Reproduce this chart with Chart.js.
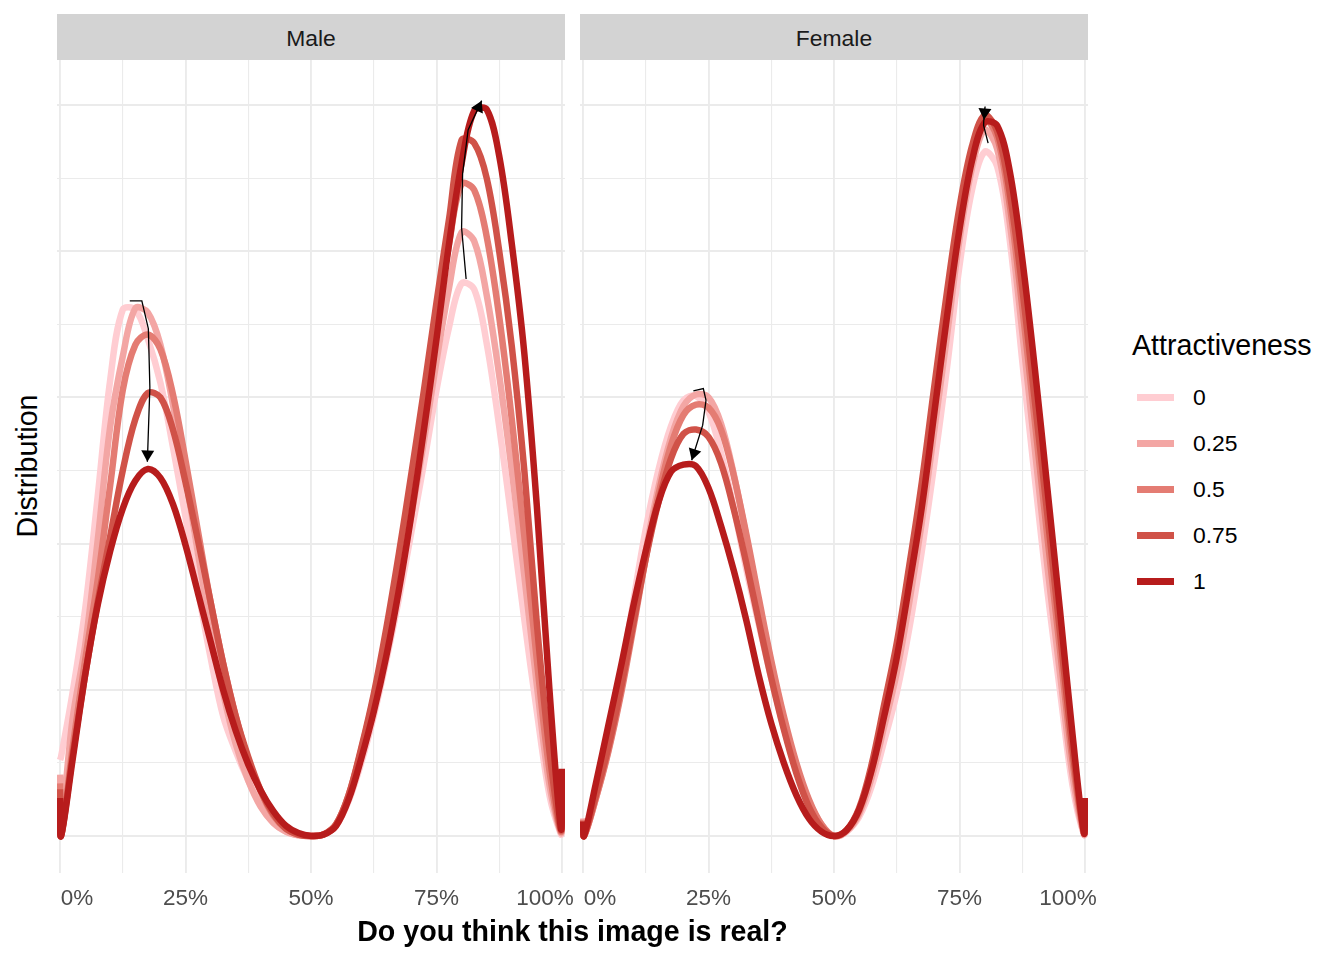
<!DOCTYPE html>
<html>
<head>
<meta charset="utf-8">
<script src="https://cdn.jsdelivr.net/npm/chart.js@4.4.1/dist/chart.umd.min.js"></script>
<style>
  body { margin: 0; background: #ffffff; font-family: "Liberation Sans", Arial, sans-serif; }
  #wrap { position: relative; width: 1344px; height: 960px; overflow: hidden; background: #fff; }
  .strip { position: absolute; top: 14px; height: 46px; width: 508px; background: #D3D3D3; color: #1A1A1A;
           font-size: 22.9px; line-height: 1; box-sizing: border-box; padding-top: 3px;
           display: flex; align-items: center; justify-content: center; }
  canvas { position: absolute; }
  .tick { position: absolute; top: 887px; font-size: 22.5px; line-height: 1; color: #4D4D4D;
          transform: translateX(-50%); white-space: nowrap; }
  .xtitle { position: absolute; left: 0; width: 1145px; top: 917px; text-align: center; font-weight: bold;
            font-size: 28.6px; line-height: 1; color: #000; }
  .ytitle { position: absolute; left: 27px; top: 466px; transform: translate(-50%, -50%) rotate(-90deg);
            font-size: 28.6px; line-height: 1; color: #000; white-space: nowrap; }
  .legtitle { position: absolute; left: 1132px; top: 331px; font-size: 28.6px; line-height: 1; color: #000; }
  .key { position: absolute; left: 1137px; width: 37px; height: 7px; }
  .klab { position: absolute; left: 1193px; font-size: 22.9px; line-height: 1; color: #000; }
</style>
</head>
<body>
<div id="wrap">
  <div class="strip" style="left:57px">Male</div>
  <div class="strip" style="left:580px">Female</div>
  <canvas id="cMale" width="508" height="870" style="left:57px;top:60px"></canvas>
  <canvas id="cFemale" width="508" height="870" style="left:580px;top:60px"></canvas>
  <div id="ticks"></div>
  <div class="xtitle">Do you think this image is real?</div>
  <div class="ytitle">Distribution</div>
  <div class="legtitle">Attractiveness</div>
  <div id="legend"></div>
</div>
<script>
// ---------- data ----------
const xs = [0, 0.002, 0.025, 0.05, 0.075, 0.1, 0.125, 0.15, 0.175, 0.2, 0.225, 0.25, 0.275, 0.3, 0.325, 0.35,
            0.375, 0.4, 0.425, 0.45, 0.475, 0.5, 0.525, 0.55, 0.575, 0.6, 0.625, 0.65, 0.675, 0.7, 0.725, 0.75,
            0.775, 0.8, 0.825, 0.85, 0.875, 0.9, 0.925, 0.95, 0.975, 0.998, 1];

const seriesNames = ['0', '0.25', '0.5', '0.75', '1'];
const seriesColors = ['#FFCDD2', '#F3A6A4', '#E47C73', '#D05248', '#B71C1C'];

const male0   = [0.52, 0.54, 0.98, 1.55, 2.32, 3.12, 3.60, 3.60, 3.40, 3.10, 2.66, 2.18, 1.68, 1.22, 0.82, 0.58, 0.38, 0.21, 0.09, 0.03, 0.005,
                 0, 0.01, 0.07, 0.24, 0.50, 0.82, 1.2, 1.62, 2.08, 2.55, 3.05, 3.48, 3.78, 3.74, 3.37, 2.8, 2.15, 1.48, 0.85, 0.28, 0.01, 0.05];
const male25  = [0.42, 0.05, 0.80, 1.30, 2.02, 2.80, 3.28, 3.61, 3.58, 3.36, 2.95, 2.45, 1.93, 1.42, 0.98, 0.63, 0.38, 0.2, 0.09, 0.03, 0.005,
                 0, 0.01, 0.07, 0.26, 0.54, 0.87, 1.27, 1.72, 2.2, 2.7, 3.25, 3.75, 4.13, 4.07, 3.7, 3.15, 2.5, 1.78, 1.03, 0.35, 0.02, 0.15];
const male50  = [0.36, 0.0, 0.6, 1.2, 1.75, 2.4, 3.05, 3.36, 3.43, 3.33, 3.02, 2.57, 2.08, 1.60, 1.18, 0.82, 0.52, 0.30, 0.14, 0.05, 0.01,
                 0, 0.01, 0.08, 0.28, 0.59, 0.95, 1.38, 1.85, 2.38, 2.92, 3.5, 4.05, 4.46, 4.42, 4.1, 3.55, 2.85, 2.05, 1.2, 0.45, 0.03, 0.25];
const male75  = [0.32, 0.0, 0.55, 1.1, 1.6, 2.05, 2.5, 2.85, 3.03, 3.0, 2.78, 2.42, 2.02, 1.60, 1.18, 0.82, 0.54, 0.31, 0.15, 0.05, 0.01,
                 0, 0.01, 0.08, 0.28, 0.60, 0.97, 1.42, 1.93, 2.48, 3.05, 3.65, 4.22, 4.76, 4.74, 4.5, 4.0, 3.35, 2.5, 1.45, 0.58, 0.04, 0.35];
const male100 = [0.26, 0.0, 0.52, 1.10, 1.58, 1.95, 2.24, 2.43, 2.51, 2.45, 2.27, 1.99, 1.66, 1.33, 1.00, 0.72, 0.49, 0.31, 0.17, 0.07, 0.02,
                 0, 0.01, 0.07, 0.25, 0.53, 0.85, 1.23, 1.68, 2.2, 2.78, 3.4, 4.05, 4.6, 4.96, 4.97, 4.65, 4.05, 3.3, 2.25, 1.0, 0.05, 0.46];

const fem0   = [0.12, 0.0, 0.25, 0.6, 1.08, 1.6, 2.1, 2.5, 2.8, 2.98, 3.01, 2.9, 2.62, 2.25, 1.83, 1.45, 1.08, 0.74, 0.45, 0.22, 0.07,
                0, 0.03, 0.13, 0.34, 0.65, 0.98, 1.42, 1.95, 2.55, 3.2, 3.9, 4.42, 4.68, 4.58, 4.08, 3.25, 2.45, 1.68, 1.0, 0.35, 0.01, 0.1];
const fem25  = [0.12, 0.0, 0.25, 0.58, 0.98, 1.45, 1.95, 2.38, 2.72, 2.94, 3.02, 3.0, 2.82, 2.48, 2.05, 1.6, 1.18, 0.8, 0.48, 0.24, 0.08,
                0, 0.03, 0.15, 0.40, 0.75, 1.12, 1.6, 2.15, 2.78, 3.42, 4.08, 4.57, 4.83, 4.7, 4.2, 3.45, 2.65, 1.85, 1.12, 0.42, 0.01, 0.12];
const fem50  = [0.11, 0.0, 0.25, 0.57, 0.96, 1.42, 1.9, 2.33, 2.67, 2.88, 2.95, 2.93, 2.78, 2.47, 2.07, 1.63, 1.2, 0.82, 0.5, 0.25, 0.08,
                0, 0.04, 0.17, 0.46, 0.85, 1.27, 1.78, 2.33, 2.98, 3.62, 4.22, 4.68, 4.90, 4.78, 4.32, 3.62, 2.84, 2.05, 1.28, 0.52, 0.02, 0.16];
const fem75  = [0.1, 0.0, 0.27, 0.6, 1.0, 1.45, 1.9, 2.28, 2.58, 2.75, 2.78, 2.73, 2.55, 2.24, 1.87, 1.47, 1.08, 0.73, 0.43, 0.2, 0.06,
                0, 0.04, 0.19, 0.49, 0.9, 1.32, 1.85, 2.42, 3.08, 3.72, 4.3, 4.72, 4.93, 4.82, 4.4, 3.75, 2.98, 2.2, 1.4, 0.6, 0.02, 0.2];
const fem100 = [0.1, 0.0, 0.35, 0.75, 1.15, 1.57, 1.95, 2.28, 2.49, 2.54, 2.53, 2.38, 2.12, 1.82, 1.48, 1.1, 0.77, 0.5, 0.28, 0.12, 0.03,
                0, 0.04, 0.18, 0.45, 0.82, 1.22, 1.72, 2.25, 2.9, 3.55, 4.15, 4.62, 4.88, 4.86, 4.55, 3.95, 3.2, 2.38, 1.55, 0.7, 0.02, 0.26];

// arrows joining the modes (0 -> 1)
const arrowMaleLeftX  = [0.139, 0.163, 0.176, 0.179, 0.174];
const arrowMaleLeftY  = [3.66, 3.66, 3.47, 3.07, 2.56];
const arrowMaleRightX = [0.809, 0.800, 0.802, 0.813, 0.840];
const arrowMaleRightY = [3.81, 4.16, 4.53, 4.83, 5.03];
const arrowFemLeftX   = [0.2198, 0.2397, 0.2450, 0.2384, 0.2165];
const arrowFemLeftY   = [3.045, 3.061, 2.98, 2.81, 2.57];
const arrowFemRightX  = [0.807, 0.798, 0.799, 0.801, 0.799];
const arrowFemRightY  = [4.74, 4.86, 4.95, 4.99, 4.90];

// axes
const xGridValues = [0, 0.125, 0.25, 0.375, 0.5, 0.625, 0.75, 0.875, 1];
const majorTickValues = [0, 0.25, 0.5, 0.75, 1];
const majorTickLabels = ['0%', '25%', '50%', '75%', '100%'];
const yGridValues = [0, 0.5, 1, 1.5, 2, 2.5, 3, 3.5, 4, 4.5, 5];

// ---------- drawing ----------
const arrowPlugin = {
  id: 'arrowheads',
  afterDatasetsDraw(chart) {
    const c = chart.ctx;
    chart.data.datasets.forEach((ds, i) => {
      if (!ds.isArrow) return;
      const pts = chart.getDatasetMeta(i).data;
      const a = pts[pts.length - 2], b = pts[pts.length - 1];
      const ang = Math.atan2(b.y - a.y, b.x - a.x);
      const L = 13, h = Math.PI / 6;
      c.save();
      c.fillStyle = '#000';
      c.beginPath();
      c.moveTo(b.x, b.y);
      c.lineTo(b.x - L * Math.cos(ang - h), b.y - L * Math.sin(ang - h));
      c.lineTo(b.x - L * Math.cos(ang + h), b.y - L * Math.sin(ang + h));
      c.closePath();
      c.fill();
      c.restore();
    });
  }
};

function zeroPad(s) { s.paddingLeft = 0; s.paddingRight = 0; s.paddingTop = 0; s.paddingBottom = 0; }

function makePanel(id, series, arrows) {
  const datasets = series.map((arr, i) => ({
    label: seriesNames[i],
    data: xs.map((x, j) => ({ x: x, y: arr[j] })),
    borderColor: seriesColors[i],
    backgroundColor: seriesColors[i],
    borderWidth: 6.5,
    pointRadius: 0,
    fill: false,
    tension: 0.35,
    borderCapStyle: 'butt',
    borderJoinStyle: 'round',
    order: 10 - i
  }));
  arrows.forEach(a => {
    datasets.push({
      label: 'arrow',
      isArrow: true,
      data: a[0].map((x, j) => ({ x: x, y: a[1][j] })),
      borderColor: '#000000',
      borderWidth: 1.3,
      pointRadius: 0,
      tension: 0,
      fill: false,
      order: 0
    });
  });
  return new Chart(document.getElementById(id), {
    type: 'line',
    data: { datasets },
    options: {
      responsive: false,
      animation: false,
      events: [],
      layout: { padding: 0, autoPadding: false },
      plugins: { legend: { display: false }, tooltip: { enabled: false } },
      scales: {
        x: {
          type: 'linear', min: -0.006, max: 1.006, offset: false,
          afterBuildTicks: s => { s.ticks = xGridValues.map(v => ({ value: v })); },
          afterFit: s => { s.height = 57; zeroPad(s); },
          border: { display: false },
          grid: {
            color: '#EBEBEB', drawTicks: false, offset: false,
            lineWidth: ctx => (majorTickValues.indexOf(ctx.tick && ctx.tick.value) >= 0 ? 1.9 : 1.1)
          },
          ticks: { display: false }
        },
        y: {
          type: 'linear', min: -0.253, max: 5.308,
          afterBuildTicks: s => { s.ticks = yGridValues.map(v => ({ value: v })); },
          afterFit: s => { s.width = 0; zeroPad(s); },
          border: { display: false },
          grid: {
            color: '#EBEBEB', drawTicks: false,
            lineWidth: ctx => (ctx.tick && Number.isInteger(ctx.tick.value) ? 1.9 : 1.1)
          },
          ticks: { display: false }
        }
      }
    },
    plugins: [arrowPlugin]
  });
}

const chartMale = makePanel('cMale', [male0, male25, male50, male75, male100],
  [[arrowMaleLeftX, arrowMaleLeftY], [arrowMaleRightX, arrowMaleRightY]]);
const chartFemale = makePanel('cFemale', [fem0, fem25, fem50, fem75, fem100],
  [[arrowFemLeftX, arrowFemLeftY], [arrowFemRightX, arrowFemRightY]]);

// x tick labels, placed from each chart's own x scale
const tickBox = document.getElementById('ticks');
[[chartMale, 57], [chartFemale, 580]].forEach(([ch, left]) => {
  const sx = ch.scales.x;
  majorTickValues.forEach((v, k) => {
    const d = document.createElement('div');
    d.className = 'tick';
    const nudge = k === 0 ? 17 : (k === majorTickValues.length - 1 ? -17 : 0);
    d.style.left = (left + sx.getPixelForValue(v) + nudge) + 'px';
    d.textContent = majorTickLabels[k];
    tickBox.appendChild(d);
  });
});

// legend
const leg = document.getElementById('legend');
seriesNames.forEach((name, i) => {
  const cy = 397 + 46 * i;
  const k = document.createElement('div');
  k.className = 'key';
  k.style.top = (cy - 3.5) + 'px';
  k.style.background = seriesColors[i];
  leg.appendChild(k);
  const t = document.createElement('div');
  t.className = 'klab';
  t.style.top = (cy - 11.5) + 'px';
  t.textContent = name;
  leg.appendChild(t);
});
</script>
</body>
</html>
